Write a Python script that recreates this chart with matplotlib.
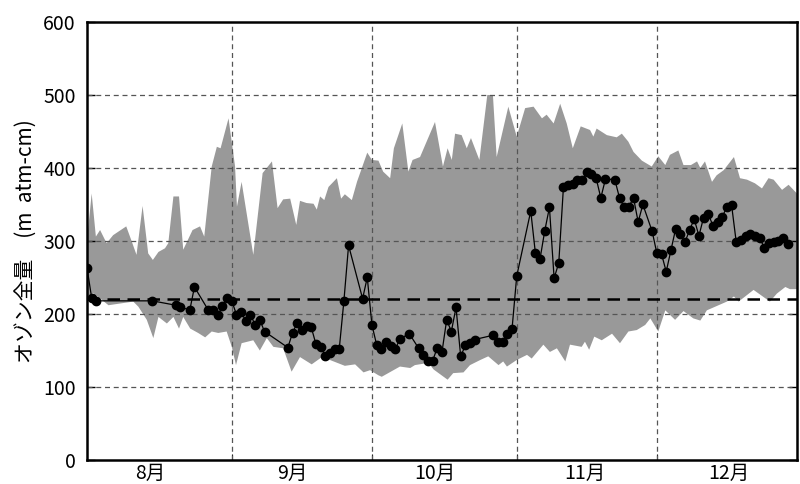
import numpy as np
import matplotlib
matplotlib.use('Agg')
import matplotlib.pyplot as plt

plt.rcParams['font.family'] = ['Noto Sans CJK JP', 'DejaVu Sans']

# 日数は8月1日からの経過日
obs_day = [0, 1, 2, 14, 19, 20, 22, 23, 26, 27, 28, 29, 30, 31, 32, 33, 34, 35, 36, 37, 38,
           43, 44, 45, 46, 47, 48, 49, 50, 51, 52, 53, 54, 55, 56, 59, 60, 61, 62, 63, 64,
           65, 66, 67, 69, 71, 72, 73, 74, 75, 76, 77, 78, 79, 80, 81, 82, 83, 87, 88, 89,
           90, 91, 92, 95, 96, 97, 98, 99, 100, 101, 102, 103, 104, 105, 106, 107, 108, 109,
           110, 111, 113, 114, 115, 116, 117, 118, 119, 121, 122, 123, 124, 125, 126, 127,
           128, 129, 130, 131, 132, 133, 134, 135, 136, 137, 138, 139, 140, 141, 142, 143,
           144, 145, 146, 147, 148, 149, 150]
obs_val = [263, 222, 218, 218, 212, 210, 205, 237, 205, 205, 198, 211, 222, 218, 199, 203, 190,
           199, 185, 192, 176, 154, 174, 188, 178, 183, 182, 159, 155, 143, 146, 152, 152, 218,
           294, 221, 250, 185, 158, 152, 161, 156, 152, 166, 173, 153, 144, 136, 136, 154, 148,
           192, 176, 209, 142, 157, 160, 165, 171, 162, 162, 173, 180, 252, 341, 283, 276, 314,
           346, 249, 270, 374, 377, 378, 384, 383, 394, 392, 386, 359, 385, 384, 359, 346, 347,
           359, 326, 350, 313, 283, 282, 258, 287, 316, 310, 298, 315, 330, 307, 332, 337, 321,
           326, 333, 347, 349, 298, 301, 307, 310, 307, 304, 291, 297, 299, 300, 304, 296]

# 過去の最大値（上端）
max_day = [0, 1.0, 1.9, 2.8, 4.2, 5.6, 8.4, 9.6, 10.6, 11.9, 13.1, 14.1, 15.3, 16.7, 17.4,
           18.5, 19.7, 20.6, 22.6, 24.2, 25.1, 26.7, 27.8, 28.6, 30.3, 31.7, 32.1, 33.1, 35.6,
           37.6, 39.6, 40.8, 42.0, 43.5, 44.8, 45.6, 47.0, 48.5, 49.2, 49.9, 50.8, 51.7, 53.5,
           54.4, 55.2, 56.7, 57.8, 60.0, 61.0, 62.4, 63.4, 64.9, 65.7, 67.5, 68.8, 69.7, 71.3,
           74.5, 76.2, 77.2, 78.1, 78.8, 80.2, 81.3, 82.2, 84.0, 85.7, 86.9, 87.7, 90.2, 92.0,
           93.8, 95.6, 97.4, 98.4, 99.9, 101.3, 102.7, 104.0, 105.7, 107.7, 108.4, 109.1, 111.3,
           113.4, 114.5, 115.9, 117.0, 118.8, 120.9, 122.3, 123.8, 124.8, 126.6, 127.7, 129.3,
           130.6, 131.3, 132.3, 133.8, 134.8, 136.3, 138.5, 139.8, 141.3, 143.0, 144.5, 145.9,
           147.0, 148.8, 150.2, 152.0]
max_val = [300, 365, 306, 315, 297, 308, 320, 299, 281, 348, 283, 274, 285, 290, 297, 361, 361,
           288, 315, 320, 306, 402, 429, 427, 468, 402, 347, 381, 281, 393, 409, 345, 357, 358,
           322, 355, 352, 351, 343, 361, 356, 374, 386, 358, 364, 356, 381, 421, 411, 410, 395,
           386, 427, 461, 395, 411, 415, 463, 402, 427, 411, 447, 445, 427, 441, 411, 500, 500,
           415, 484, 443, 482, 484, 468, 473, 461, 488, 461, 427, 457, 452, 443, 454, 445, 442,
           447, 436, 422, 410, 402, 416, 404, 418, 424, 404, 404, 409, 400, 409, 381, 390, 397,
           415, 386, 384, 379, 372, 386, 384, 370, 377, 365]

# 過去の最小値（下端）
min_day = [0, 1.3, 4.6, 9.9, 11.0, 12.8, 14.2, 15.3, 17.1, 18.5, 19.7, 20.6, 22.1, 23.8, 25.3,
           26.7, 28.1, 29.9, 31.0, 31.9, 33.1, 35.6, 37.0, 38.5, 39.9, 42.0, 43.8, 45.6, 48.1,
           50.3, 52.0, 55.2, 57.4, 59.2, 60.6, 62.4, 63.1, 67.0, 69.2, 70.2, 73.1, 74.2, 77.2,
           78.4, 80.6, 82.0, 84.2, 85.9, 88.1, 89.1, 89.9, 92.0, 94.2, 95.2, 97.7, 99.1, 100.6,
           102.4, 103.4, 105.9, 106.6, 107.5, 108.6, 110.2, 112.4, 114.1, 115.9, 117.7, 119.5,
           120.6, 122.3, 123.8, 125.9, 127.7, 129.8, 131.3, 132.7, 137.0, 138.5, 139.5, 142.7,
           146.2, 147.7, 149.5, 150.5, 152.0]
min_val = [218, 229, 212, 217, 210, 192, 167, 196, 187, 196, 180, 196, 180, 174, 168, 176, 174,
           176, 155, 130, 160, 164, 150, 167, 155, 153, 121, 141, 131, 141, 137, 129, 131, 120,
           123, 116, 114, 128, 126, 130, 133, 124, 110, 119, 120, 130, 137, 142, 130, 135, 128,
           137, 144, 139, 158, 148, 153, 135, 158, 155, 162, 151, 169, 164, 173, 160, 176, 178,
           185, 194, 176, 205, 192, 204, 194, 191, 205, 217, 224, 217, 233, 217, 228, 237, 234,
           234]

normal_val = 220

month_edges = [31, 61, 92, 122]
month_label_pos = [13.5, 44, 74.5, 106.5, 137.5]
month_labels = ['8月', '9月', '10月', '11月', '12月']

fig = plt.figure(figsize=(8, 4.84), dpi=100)
ax = fig.add_axes([0.10875, 0.0496, 0.8875, 0.905])

band_x = np.concatenate([max_day, min_day[::-1]])
band_y = np.concatenate([max_val, min_val[::-1]])
ax.fill(band_x, band_y, color='#999999', lw=0, zorder=1)

for y in range(100, 600, 100):
    ax.axhline(y, color='#555555', lw=0.9, ls=(0, (4, 3)), zorder=2)
for x in month_edges:
    ax.axvline(x, color='#555555', lw=0.9, ls=(0, (4, 3)), zorder=2)

ax.axhline(normal_val, color='black', lw=1.8, ls=(0, (5, 3)), zorder=3)
ax.plot(obs_day, obs_val, color='black', lw=0.9, marker='o', ms=6, zorder=4)

ax.set_xlim(0, 152)
ax.set_ylim(0, 600)
ax.set_yticks(range(0, 601, 100))
ax.set_xticks(month_edges)
ax.set_xticklabels([])
ax.set_xticks(month_label_pos, minor=True)
ax.set_xticklabels(month_labels, minor=True, fontsize=14)
ax.tick_params(axis='x', which='minor', length=0, pad=2)
ax.tick_params(axis='x', which='major', direction='in', length=4, color='black')
ax.tick_params(axis='y', direction='in', length=6, labelsize=14, right=True, width=1, pad=8)
ax.set_ylabel('オゾン全量\u3000(m  atm-cm)', fontsize=15, labelpad=4)
for s in ax.spines.values():
    s.set_linewidth(1.8)
    s.set_zorder(5)

fig.savefig('out.png', dpi=100)
